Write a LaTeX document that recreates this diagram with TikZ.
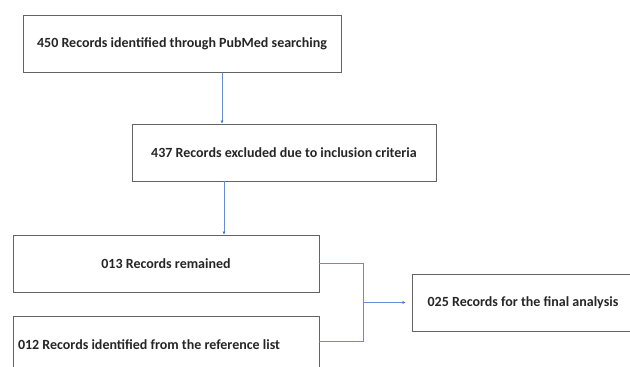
\documentclass[tikz,border=0pt]{standalone}
\usepackage{fontspec}
\setmainfont{Carlito}
\usepackage{tikz}
\usetikzlibrary{arrows.meta,positioning}
\definecolor{boxgray}{RGB}{100,100,100}
\definecolor{linkblue}{RGB}{100,140,215}
\definecolor{tipblue}{RGB}{68,114,196}

\begin{document}
\begin{tikzpicture}[x=1pt,y=-1pt,
  recbox/.style={shape=rectangle, draw=boxgray, line width=0.9pt, minimum height=57pt, inner sep=5pt, font=\bfseries\fontsize{14}{16}\selectfont, text=black!85},
  link/.style={linkblue, line width=0.8pt, -{Latex[length=3pt,width=3pt,color=tipblue]}},
  joinline/.style={linkblue, line width=0.8pt}]
\clip (0,0) rectangle (630,367);
\fill[white] (0,0) rectangle (630,367);
\node[recbox, minimum width=318pt](search) at (182,44) {450 Records identified through PubMed searching};
\node[recbox, minimum width=304pt](excl) at (284,152.5) {437 Records excluded due to inclusion criteria};
\node[recbox, minimum width=306pt](remain) at (166,263.5) {013 Records remained};
\node[recbox, text width=296pt, align=flush left](reflist) at (166,344.5) {012 Records identified from the reference list};
\node[recbox, minimum width=222pt](final) at (523,302.5) {025 Records for the final analysis};
\coordinate (join) at ([xshift=44pt]remain.east |- final.west);
\draw[link] ([xshift=40pt]search.south) -- ([xshift=40pt]search.south |- excl.north);
\draw[link] ([xshift=-60pt]excl.south) -- ([xshift=-60pt]excl.south |- remain.north);
\draw[joinline] (remain.east) -| (join) |- ([yshift=3.5pt]reflist.east);
\draw[link, shorten >=6pt] (join) -- (final.west);
\end{tikzpicture}
\end{document}
